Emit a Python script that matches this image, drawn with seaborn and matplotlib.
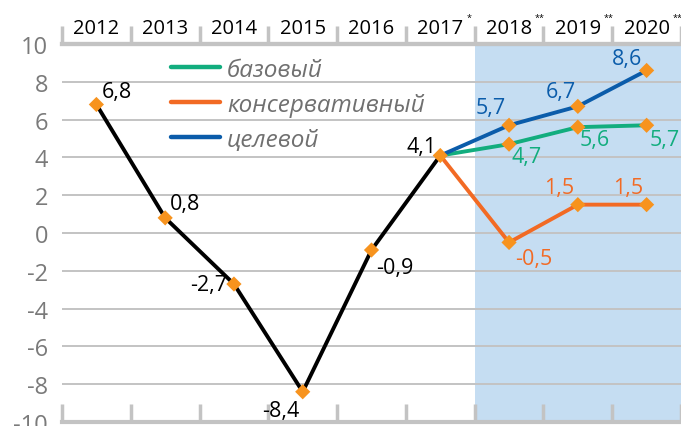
import matplotlib
matplotlib.use("Agg")
import matplotlib.pyplot as plt
import matplotlib.transforms as mtransforms
from matplotlib.lines import Line2D
import seaborn as sns
import pandas as pd

# ---------------- data ----------------
years = ['2012', '2013', '2014', '2015', '2016', '2017', '2018', '2019', '2020']
year_marks = ['', '', '', '', '', '*', '**', '**', '**']
hist_years = ['2012', '2013', '2014', '2015', '2016', '2017']
hist_vals = [6.8, 0.8, -2.7, -8.4, -0.9, 4.1]
fc_years = ['2017', '2018', '2019', '2020']
base_vals = [4.1, 4.7, 5.6, 5.7]
cons_vals = [4.1, -0.5, 1.5, 1.5]
target_vals = [4.1, 5.7, 6.7, 8.6]
series_names = ['базовый', 'консервативный', 'целевой']
y_ticks = [-10, -8, -6, -4, -2, 0, 2, 4, 6, 8, 10]

# ---------------- style ----------------
sns.set_theme(style='white')
plt.rcParams['font.family'] = ['Open Sans', 'DejaVu Sans']

C_HIST = '#000000'
C_BASE = '#12AD7E'
C_CONS = '#F26A24'
C_TARG = '#0B5CAA'
C_MARK = '#F7931E'
C_GRID = '#C3C3C3'
C_SHADE = '#C5DDF2'
C_TICKTXT = '#7A7A7A'

pos = {y: i for i, y in enumerate(years)}

rows = []
for y, v in zip(hist_years, hist_vals):
    rows.append(dict(x=pos[y], value=v, series='история'))
for name, vals in zip(series_names, [base_vals, cons_vals, target_vals]):
    for y, v in zip(fc_years, vals):
        rows.append(dict(x=pos[y], value=v, series=name))
df = pd.DataFrame(rows)

palette = {'история': C_HIST, 'базовый': C_BASE, 'консервативный': C_CONS, 'целевой': C_TARG}

fig = plt.figure(figsize=(6.81, 4.27), dpi=100)
ax = fig.add_axes([62 / 681, 4 / 427, 619 / 681, 378 / 427])

ax.axvspan(5.5, 8.5, color=C_SHADE, zorder=0, lw=0)

sns.lineplot(data=df, x='x', y='value', hue='series', palette=palette,
             linewidth=2.8, legend=False, ax=ax, zorder=3, sort=False,
             estimator=None)
sns.scatterplot(data=df.drop_duplicates(subset=['x', 'value']), x='x', y='value',
                color=C_MARK, marker='D', s=60, edgecolor='none',
                legend=False, ax=ax, zorder=5)

ax.set_xlim(-0.5, 8.5)
ax.set_ylim(-10, 10)
ax.set_xlabel('')
ax.set_ylabel('')

# y grid
ax.set_yticks(y_ticks)
ax.set_yticklabels([str(t) for t in y_ticks], fontsize=17, color=C_TICKTXT)
ax.tick_params(axis='y', length=0, pad=10)
ax.yaxis.grid(True, color=C_GRID, lw=1.4)
ax.set_axisbelow(True)

for s in ['left', 'right']:
    ax.spines[s].set_visible(False)
for s in ['top', 'bottom']:
    ax.spines[s].set_color(C_GRID)
    ax.spines[s].set_linewidth(3)

# bottom ticks (inward, pointing up)
bounds = [i - 0.5 for i in range(len(years) + 1)]
ax.set_xticks(bounds)
ax.set_xticklabels([])
ax.tick_params(axis='x', which='major', direction='in', length=13, width=2.5,
               color=C_GRID, bottom=True, top=False)

# top axis with category labels
sec = ax.secondary_xaxis('top')
sec.set_xticks(bounds)
sec.set_xticklabels([])
sec.set_xticks(list(range(len(years))), minor=True)
sec.set_xticklabels(years, minor=True, fontsize=14.5, color='black')
sec.tick_params(axis='x', which='major', direction='out', length=13, width=2.5,
                color=C_GRID)
sec.tick_params(axis='x', which='minor', length=0, pad=4)
sec.spines['top'].set_color(C_GRID)
sec.spines['top'].set_linewidth(3)

trans = mtransforms.blended_transform_factory(ax.transData, ax.transAxes)
for i, m in enumerate(year_marks):
    if m:
        ax.annotate(m, xy=(i, 1), xycoords=trans, xytext=(26, 27),
                    textcoords='offset pixels', fontsize=6.5, ha='left',
                    va='center', color='black', annotation_clip=False)

# data labels
def fmt(v):
    return ('%.1f' % v).replace('.', ',')

hist_off = [(20, 13), (20, 14), (-25, 0), (-22, -19), (23, -17), (-19, 9)]
for y, v, off in zip(hist_years, hist_vals, hist_off):
    ax.annotate(fmt(v), xy=(pos[y], v), xytext=off, textcoords='offset pixels',
                ha='center', va='center', fontsize=15.5, color='black', zorder=6)

fc_specs = [
    (base_vals, C_BASE, [(18, -12), (17, -12), (18, -14)]),
    (cons_vals, C_CONS, [(25, -16), (-19, 17), (-19, 17)]),
    (target_vals, C_TARG, [(-18, 18), (-17, 15), (-20, 12)]),
]
for vals, col, offs in fc_specs:
    for y, v, off in zip(fc_years[1:], vals[1:], offs):
        ax.annotate(fmt(v), xy=(pos[y], v), xytext=off, textcoords='offset pixels',
                    ha='center', va='center', fontsize=15.5, color=col, zorder=6)

# legend
handles = [Line2D([0], [0], color=c, lw=3.2) for c in [C_BASE, C_CONS, C_TARG]]
leg = ax.legend(handles, series_names, loc='upper left',
                bbox_to_anchor=(171 / 681, 1 - 59 / 427), bbox_transform=fig.transFigure,
                frameon=False, borderpad=0, borderaxespad=0, handlelength=2.0,
                handletextpad=0.3, labelspacing=0.45,
                prop={'family': ['Open Sans', 'DejaVu Sans'], 'style': 'italic', 'size': 17.5})
for t in leg.get_texts():
    t.set_color('#707070')

fig.savefig('out.png', dpi=100)
